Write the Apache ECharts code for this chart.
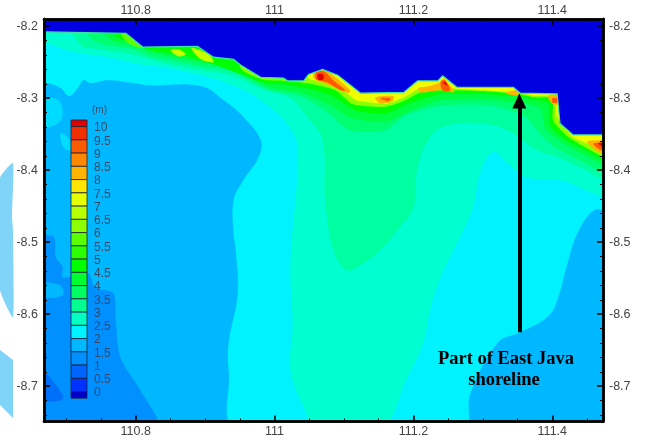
<!DOCTYPE html>
<html><head><meta charset="utf-8">
<style>html,body{margin:0;padding:0;background:#fff}#c{width:645px;height:441px;filter:blur(0.7px)}</style>
<script src="https://cdn.jsdelivr.net/npm/echarts@6/dist/echarts.min.js"></script>
</head><body><div id="c"></div>
<script>
var xMajor=[110.8,111,111.2,111.4];
var xMinor=[110.7,110.75,110.85,110.9,110.95,111.05,111.1,111.15,111.25,111.3,111.35,111.45];
var yMajor=[-8.2,-8.3,-8.4,-8.5,-8.6,-8.7];
var yMinor=[-8.22,-8.24,-8.26,-8.28,-8.32,-8.34,-8.36,-8.38,-8.42,-8.44,-8.46,-8.48,-8.52,-8.54,-8.56,-8.58,-8.62,-8.64,-8.66,-8.68,-8.72,-8.74];
var legendLabels=['10','9.5','9','8.5','8','7.5','7','6.5','6','5.5','5','4.5','4','3.5','3','2.5','2','1.5','1','0.5','0'];
var legendColors=['#e00000','#f03000','#ff5a00','#ff8800','#ffb400','#ffe600','#e6ff00','#b8ff00','#8cff00','#5aff00','#2cff00','#00ff00','#00ff30','#00ff60','#00ff90','#00ffc0','#00f2ff','#00b8ff','#0090ff','#0064ff','#0032ff','#0000c8'];
// wave-height contour regions (lon, lat), value = lower bound in metres
var h20=[[110.66,-8.186],[111.48,-8.186],[111.48,-8.76],[110.66,-8.76]];
var h15=[[110.66,-8.493],[110.682,-8.493],[110.685,-8.521],[110.695,-8.535],[110.695,-8.549],[110.731,-8.543],[110.742,-8.563],[110.768,-8.571],[110.771,-8.604],[110.778,-8.660],[110.807,-8.706],[110.832,-8.76],[110.66,-8.76]];
var h20b=[[110.66,-8.557],[110.692,-8.560],[110.695,-8.574],[110.66,-8.576]];
var h10=[[110.66,-8.682],[110.671,-8.682],[110.696,-8.717],[110.671,-8.722],[110.66,-8.722]];
var h25=[[110.66,-8.186],[111.48,-8.186],[111.48,-8.451],[111.459,-8.456],[111.436,-8.488],[111.422,-8.529],[111.407,-8.581],[111.393,-8.604],[111.354,-8.625],[111.321,-8.640],[111.282,-8.710],[111.270,-8.76],[110.947,-8.76],[110.934,-8.678],[110.934,-8.640],[110.947,-8.571],[110.944,-8.511],[110.941,-8.488],[110.941,-8.442],[110.955,-8.414],[110.977,-8.382],[110.980,-8.358],[110.955,-8.326],[110.927,-8.303],[110.894,-8.283],[110.817,-8.282],[110.797,-8.279],[110.760,-8.275],[110.735,-8.279],[110.725,-8.275],[110.717,-8.285],[110.704,-8.297],[110.692,-8.286],[110.673,-8.279],[110.66,-8.279]];
var h25b=[[110.66,-8.303],[110.689,-8.303],[110.692,-8.331],[110.66,-8.340]];
var h25c=[[110.692,-8.349],[110.704,-8.356],[110.706,-8.372],[110.696,-8.368]];
var h30=[[110.66,-8.186],[111.48,-8.186],[111.48,-8.428],[111.411,-8.414],[111.364,-8.410],[111.335,-8.390],[111.315,-8.375],[111.296,-8.404],[111.286,-8.451],[111.263,-8.501],[111.239,-8.549],[111.224,-8.594],[111.214,-8.640],[111.191,-8.688],[111.152,-8.76],[111.062,-8.76],[111.042,-8.729],[111.023,-8.678],[111.026,-8.618],[111.023,-8.529],[111.033,-8.396],[111.027,-8.349],[110.980,-8.303],[110.932,-8.279],[110.894,-8.268],[110.846,-8.258],[110.807,-8.253],[110.760,-8.243],[110.711,-8.236],[110.673,-8.224],[110.66,-8.222]];
var h35=[[110.71,-8.186],[111.48,-8.186],[111.48,-8.408],[111.440,-8.396],[111.411,-8.383],[111.378,-8.372],[111.335,-8.344],[111.296,-8.335],[111.249,-8.338],[111.224,-8.354],[111.206,-8.396],[111.200,-8.451],[111.177,-8.483],[111.152,-8.511],[111.128,-8.529],[111.105,-8.539],[111.085,-8.511],[111.073,-8.442],[111.069,-8.358],[111.047,-8.326],[111.023,-8.300],[110.987,-8.289],[110.937,-8.268],[110.894,-8.261],[110.850,-8.253],[110.793,-8.239],[110.750,-8.232],[110.72,-8.225]];
var h40=[[110.725,-8.186],[111.48,-8.186],[111.48,-8.400],[111.440,-8.386],[111.404,-8.368],[111.380,-8.347],[111.361,-8.325],[111.311,-8.310],[111.239,-8.311],[111.188,-8.324],[111.160,-8.344],[111.109,-8.344],[111.073,-8.317],[111.037,-8.297],[110.994,-8.289],[110.965,-8.275],[110.937,-8.261],[110.894,-8.256],[110.850,-8.247],[110.822,-8.242],[110.793,-8.231],[110.757,-8.226],[110.735,-8.216]];
var h45=[[110.75,-8.186],[111.48,-8.186],[111.48,-8.392],[111.447,-8.379],[111.414,-8.361],[111.390,-8.342],[111.383,-8.314],[111.354,-8.306],[111.296,-8.301],[111.239,-8.303],[111.196,-8.317],[111.160,-8.333],[111.112,-8.328],[111.073,-8.306],[111.037,-8.292],[110.994,-8.285],[110.965,-8.272],[110.929,-8.256],[110.894,-8.250],[110.850,-8.242],[110.822,-8.236],[110.800,-8.226],[110.771,-8.222],[110.757,-8.213]];
var h50=[[110.77,-8.186],[111.48,-8.186],[111.48,-8.386],[111.447,-8.372],[111.419,-8.358],[111.397,-8.338],[111.394,-8.306],[111.376,-8.303],[111.347,-8.297],[111.296,-8.294],[111.239,-8.294],[111.196,-8.306],[111.160,-8.321],[111.117,-8.317],[111.081,-8.296],[111.045,-8.286],[111.016,-8.281],[110.983,-8.278],[110.944,-8.264],[110.915,-8.254],[110.894,-8.247],[110.865,-8.240],[110.822,-8.233],[110.800,-8.226],[110.786,-8.220],[110.771,-8.214]];
var h60=[[110.951,-8.186],[111.48,-8.186],[111.48,-8.381],[111.447,-8.368],[111.423,-8.354],[111.401,-8.331],[111.400,-8.300],[111.376,-8.299],[111.351,-8.294],[111.296,-8.290],[111.239,-8.289],[111.210,-8.292],[111.188,-8.303],[111.160,-8.312],[111.112,-8.308],[111.088,-8.289],[111.066,-8.283],[111.045,-8.279],[111.016,-8.276],[110.983,-8.274],[110.951,-8.258]];
var h60b=[[110.85,-8.233],[110.862,-8.232],[110.872,-8.239],[110.862,-8.242]];
var h60c=[[110.88,-8.230],[110.905,-8.239],[110.912,-8.250],[110.894,-8.246]];
var h55=[[110.778,-8.208],[110.800,-8.212],[110.812,-8.230],[110.79,-8.224]];
var h70=[[111.045,-8.186],[111.48,-8.186],[111.48,-8.376],[111.455,-8.365],[111.429,-8.354],[111.406,-8.325],[111.404,-8.297],[111.376,-8.297],[111.351,-8.292],[111.296,-8.289],[111.239,-8.286],[111.206,-8.288],[111.186,-8.299],[111.160,-8.308],[111.117,-8.303],[111.095,-8.286],[111.073,-8.278],[111.052,-8.274],[111.045,-8.268]];
var h80=[[[111.058,-8.263],[111.073,-8.261],[111.089,-8.272],[111.109,-8.289],[111.106,-8.293],[111.089,-8.286],[111.069,-8.278],[111.056,-8.272]],[[111.145,-8.299],[111.171,-8.297],[111.170,-8.304],[111.152,-8.307]],[[111.207,-8.286],[111.224,-8.283],[111.236,-8.279],[111.243,-8.275],[111.256,-8.286],[111.259,-8.292],[111.239,-8.289],[111.210,-8.292]],[[111.332,-8.292],[111.350,-8.289],[111.351,-8.296],[111.335,-8.294]],[[111.394,-8.297],[111.409,-8.296],[111.409,-8.308],[111.400,-8.308]],[[111.450,-8.360],[111.48,-8.361],[111.48,-8.379],[111.462,-8.372]]];
var h90=[[[111.060,-8.264],[111.072,-8.263],[111.083,-8.274],[111.102,-8.289],[111.095,-8.289],[111.075,-8.278],[111.060,-8.274]],[[111.152,-8.300],[111.167,-8.300],[111.164,-8.304]],[[111.239,-8.278],[111.245,-8.274],[111.253,-8.289],[111.242,-8.289]],[[111.400,-8.300],[111.407,-8.300],[111.407,-8.306],[111.400,-8.306]],[[111.459,-8.363],[111.48,-8.363],[111.48,-8.376],[111.465,-8.369]]];
var h100=[[[111.062,-8.267],[111.070,-8.267],[111.070,-8.274],[111.063,-8.274]],[[111.466,-8.363],[111.48,-8.363],[111.48,-8.371]],[[111.242,-8.278],[111.246,-8.278],[111.249,-8.283]]];
var land=[[110.66,-8.186],[111.48,-8.186],[111.48,-8.351],[111.430,-8.351],[111.411,-8.335],[111.407,-8.294],[111.354,-8.293],[111.344,-8.285],[111.263,-8.285],[111.242,-8.269],[111.235,-8.276],[111.206,-8.276],[111.186,-8.292],[111.124,-8.293],[111.091,-8.268],[111.069,-8.260],[111.049,-8.267],[111.042,-8.276],[111.019,-8.276],[111.013,-8.272],[110.980,-8.271],[110.951,-8.254],[110.941,-8.246],[110.912,-8.243],[110.889,-8.228],[110.810,-8.229],[110.786,-8.210],[110.671,-8.208],[110.66,-8.208]];
var arrowLon=111.3525, arrowFoot=-8.625, arrowHead=-8.304;

var layers=[[h20,'#00b8ff',.3],[h15,'#0090ff',.3],[h20b,'#00b8ff',.3],[h10,'#0070f8',.3],[h25,'#00f2ff',.4],[h25b,'#00dcff',.4],[h25c,'#00dcff',.4],[h30,'#00ffd0',.4],[h35,'#00ffa0',.4],[h40,'#00ff70',.3],[h45,'#00ff40',.2],[h50,'#00ff00',.2],[h55,'#60ff00',.3],[h60,'#8cff00',.2],[h60b,'#c8ff00',.3],[h60c,'#c8ff00',.3],[h70,'#f0ff00',.1]];
h80.forEach(function(p){layers.push([p,'#ffb400',.3]);});
h90.forEach(function(p){layers.push([p,'#ff5a00',.3]);});
h100.forEach(function(p){layers.push([p,'#e00000',.3]);});
layers.push([land,'#0000e0',0]);

var C=echarts.init(document.getElementById('c'));
var lab={color:'#444',fontSize:12.5,fontFamily:'Liberation Sans'};
var blackLine={show:true,onZero:false,lineStyle:{color:'#000',width:2.5}};
function xa(pos,vals,len,lbl){return {type:'value',position:pos,min:110.668,max:111.473,z:5,splitLine:{show:false},axisLine:blackLine,
  axisTick:{show:true,inside:true,length:len,customValues:vals,lineStyle:{color:'#000',width:len>3?1.6:1}},
  axisLabel:lbl?Object.assign({show:true,customValues:vals,margin:pos=='top'?2:4,formatter:function(v){return String(v);}},lab):{show:false}};}
function ya(pos,vals,len,lbl){return {type:'value',position:pos,min:-8.749,max:-8.19,z:5,splitLine:{show:false},axisLine:blackLine,
  axisTick:{show:true,inside:true,length:len,customValues:vals,lineStyle:{color:'#000',width:len>3?1.6:1}},
  axisLabel:lbl?Object.assign({show:true,customValues:vals,margin:6,formatter:function(v){return String(v);}},lab):{show:false}};}

var gfx=[
 {type:'polygon',z:-1,shape:{points:[[0,178],[13,163],[12,217],[13,230],[13,317],[0,290]],smooth:.15},style:{fill:'#80d4f8'}},
 {type:'polygon',z:-1,shape:{points:[[0,350],[13,360],[13,418],[0,405]]},style:{fill:'#80d4f8'}},
 {type:'text',z:20,x:92,y:105,style:{text:'(m)',fill:'#3a4660',font:'10px "Liberation Sans"'}},
 {type:'text',z:20,x:506,y:359,style:{text:'Part of East Java',fill:'#000',font:'bold 18.5px "Liberation Serif"',align:'center',verticalAlign:'middle'}},
 {type:'text',z:20,x:504,y:380,style:{text:'shoreline',fill:'#000',font:'bold 18.5px "Liberation Serif"',align:'center',verticalAlign:'middle'}}
];
var ly=120;
legendColors.forEach(function(col,i){
  var h=(i==0||i==legendColors.length-1)?6.6:13.25;
  gfx.push({type:'rect',z:20,shape:{x:71,y:ly,width:16,height:h},style:{fill:col,stroke:'#223',lineWidth:.8}});
  if(i<legendLabels.length){gfx.push({type:'text',z:20,x:94,y:ly+h+1.5,style:{text:legendLabels[i],fill:'#3a4660',font:'12px "Liberation Sans"',verticalAlign:'middle'}});}
  ly+=h;
});

C.setOption({
 animation:false,backgroundColor:'#fff',
 grid:{left:44,right:42,top:19,bottom:19.5},
 xAxis:[xa('bottom',xMajor,6,true),xa('top',xMajor,6,true),xa('bottom',xMinor,3,false),xa('top',xMinor,3,false)],
 yAxis:[ya('left',yMajor,6,true),ya('right',yMajor,6,true),ya('left',yMinor,3,false),ya('right',yMinor,3,false)],
 graphic:gfx,
 series:[{
  type:'custom',clip:true,silent:true,xAxisIndex:0,yAxisIndex:0,
  data:layers.map(function(l,i){return [i];}),
  encode:{x:[],y:[]},
  renderItem:function(p,api){
    var l=layers[api.value(0)];
    var isLand=l[0]===land;
    return {type:'polygon',shape:{points:l[0].map(function(q){return api.coord(q);}),smooth:l[2]},
      style:{fill:l[1],stroke:isLand?'#38e8a0':null,lineWidth:isLand?1.2:0}};
  }
 },{
  type:'line',data:[],xAxisIndex:0,yAxisIndex:0,silent:true,
  markLine:{silent:true,animation:false,symbol:['none','triangle'],symbolSize:[14,15],label:{show:false},
    lineStyle:{color:'#000',width:4,type:'solid'},
    data:[[{coord:[arrowLon,arrowFoot]},{coord:[arrowLon,arrowHead]}]]}
 }]
});
</script></body></html>
